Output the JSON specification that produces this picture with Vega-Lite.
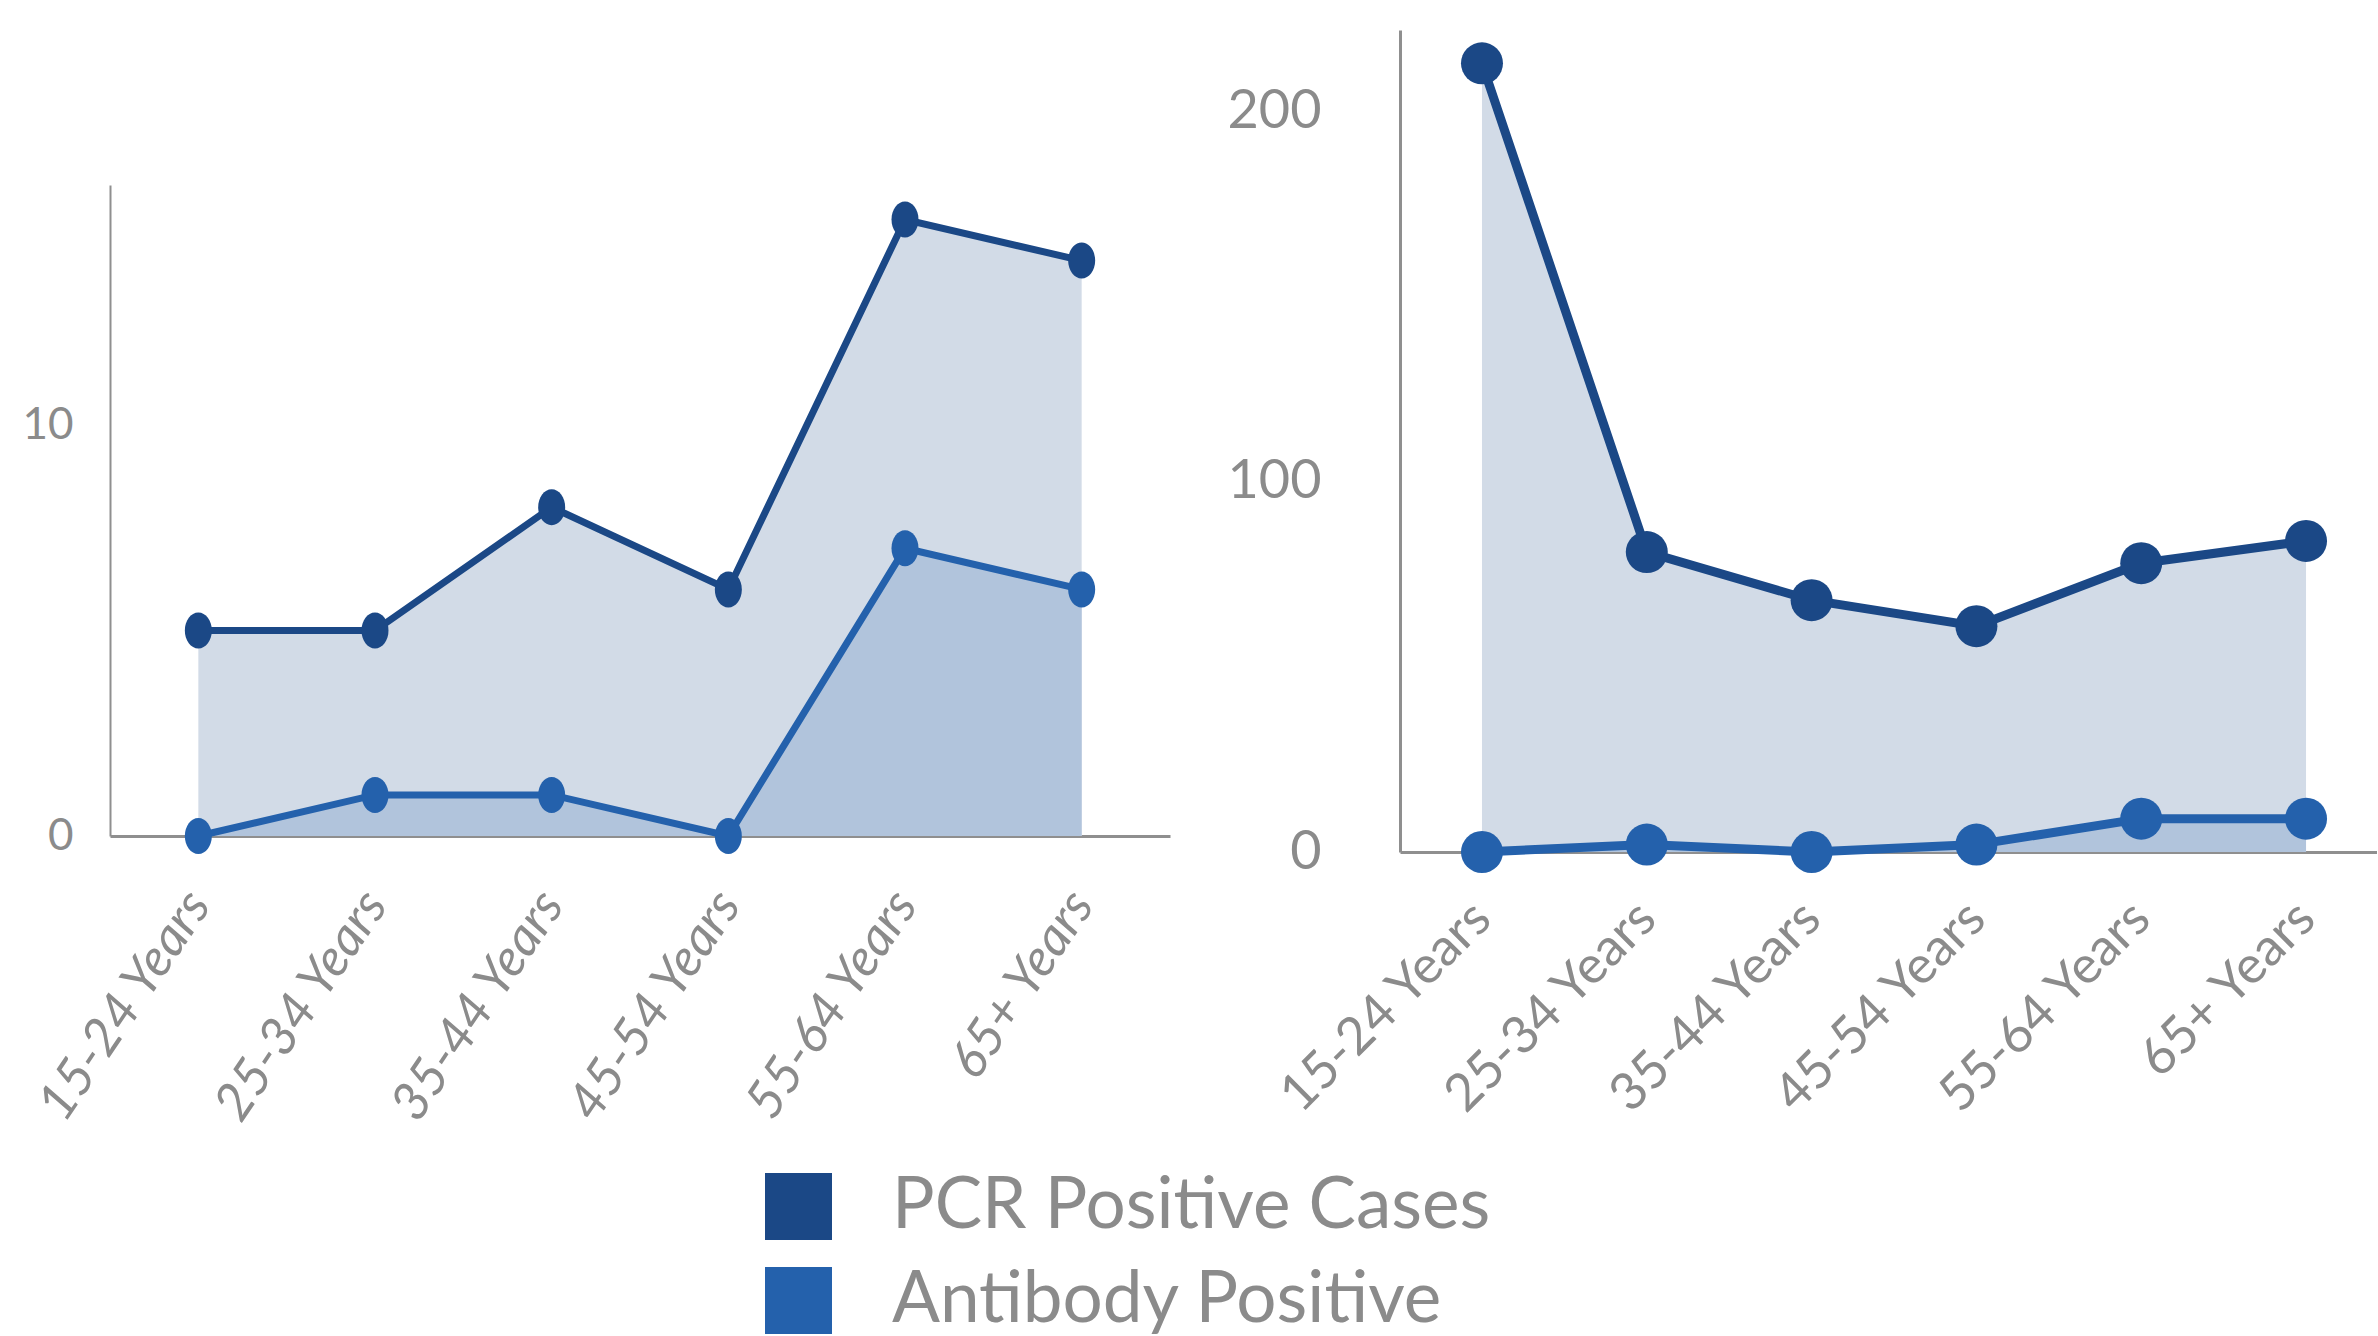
{
  "$schema": "https://vega.github.io/schema/vega-lite/v6.json",
  "background": "white",
  "padding": {"left": 21, "top": 30, "right": 0, "bottom": 0},
  "autosize": {"type": "pad"},
  "datasets": {
    "left": [
      {"age": "15-24 Years", "series": "PCR Positive Cases", "value": 5},
      {"age": "25-34 Years", "series": "PCR Positive Cases", "value": 5},
      {"age": "35-44 Years", "series": "PCR Positive Cases", "value": 8},
      {"age": "45-54 Years", "series": "PCR Positive Cases", "value": 6},
      {"age": "55-64 Years", "series": "PCR Positive Cases", "value": 15},
      {"age": "65+ Years", "series": "PCR Positive Cases", "value": 14},
      {"age": "15-24 Years", "series": "Antibody Positive", "value": 0},
      {"age": "25-34 Years", "series": "Antibody Positive", "value": 1},
      {"age": "35-44 Years", "series": "Antibody Positive", "value": 1},
      {"age": "45-54 Years", "series": "Antibody Positive", "value": 0},
      {"age": "55-64 Years", "series": "Antibody Positive", "value": 7},
      {"age": "65+ Years", "series": "Antibody Positive", "value": 6}
    ],
    "right": [
      {"age": "15-24 Years", "series": "PCR Positive Cases", "value": 213},
      {"age": "25-34 Years", "series": "PCR Positive Cases", "value": 81},
      {"age": "35-44 Years", "series": "PCR Positive Cases", "value": 68},
      {"age": "45-54 Years", "series": "PCR Positive Cases", "value": 61},
      {"age": "55-64 Years", "series": "PCR Positive Cases", "value": 78},
      {"age": "65+ Years", "series": "PCR Positive Cases", "value": 84},
      {"age": "15-24 Years", "series": "Antibody Positive", "value": 0},
      {"age": "25-34 Years", "series": "Antibody Positive", "value": 2},
      {"age": "35-44 Years", "series": "Antibody Positive", "value": 0},
      {"age": "45-54 Years", "series": "Antibody Positive", "value": 2},
      {"age": "55-64 Years", "series": "Antibody Positive", "value": 9},
      {"age": "65+ Years", "series": "Antibody Positive", "value": 9}
    ]
  },
  "spacing": 57,
  "hconcat": [
    {
      "spacing": 0,
      "vconcat": [
        {"width": 1060, "height": 155, "data": {"values": []}, "mark": "text", "encoding": {}},
        {
          "width": 1060,
          "height": 651,
          "data": {"name": "left"},
          "encoding": {
            "x": {"field": "age", "type": "nominal", "sort": null,
              "scale": {"type": "point", "padding": 0.5},
              "axis": {"title": null, "ticks": false, "labelAngle": -56, "labelAlign": "right", "labelBaseline": "middle",
                "labelFont": "Lato", "labelFontStyle": "italic", "labelFontSize": 52,
                "labelColor": "#8b8b8b", "labelPadding": 60, "domainColor": "#8f8f8f", "domainWidth": 3}},
            "y": {"field": "value", "type": "quantitative",
              "scale": {"domain": [0, 15.84], "nice": false},
              "axis": {"title": null, "ticks": false, "values": [0, 10], "labelFont": "Lato",
                "labelFontSize": 44, "labelColor": "#8b8b8b", "labelPadding": 37, "domainColor": "#8f8f8f", "domainWidth": 2}},
            "color": {"field": "series", "type": "nominal",
              "scale": {"domain": ["PCR Positive Cases", "Antibody Positive"], "range": ["#1b4886", "#2461ac"]},
              "legend": {"orient": "none", "legendX": 653, "legendY": 1141, "direction": "vertical", "title": null}}
          },
          "layer": [
            {"transform": [{"filter": "datum.series === 'PCR Positive Cases'"}], "mark": {"type": "area", "opacity": 1}, "encoding": {"color": {"value": "#d2dbe7"}}},
            {"transform": [{"filter": "datum.series === 'Antibody Positive'"}], "mark": {"type": "area", "opacity": 1}, "encoding": {"color": {"value": "#b1c4dc"}}},
            {"mark": {"type": "line", "strokeWidth": 7}},
            {"mark": {"type": "point", "filled": true, "opacity": 1, "size": 1296,
                "shape": "M-0.75,0A0.75,1,0,1,0,0.75,0A0.75,1,0,1,0,-0.75,0Z"}}
          ]
        }
      ]
    },
    {
      "width": 977,
      "height": 822,
      "data": {"name": "right"},
      "encoding": {
        "x": {"field": "age", "type": "nominal", "sort": null,
          "scale": {"type": "point", "padding": 0.464, "align": 0.536},
          "axis": {"title": null, "ticks": false, "labelAngle": -45, "labelAlign": "right", "labelBaseline": "middle",
            "labelFont": "Lato", "labelFontSize": 52, "labelColor": "#8b8b8b", "labelPadding": 58,
            "domainColor": "#8f8f8f", "domainWidth": 3}},
        "y": {"field": "value", "type": "quantitative",
          "scale": {"domain": [0, 222], "nice": false},
          "axis": {"title": null, "ticks": false, "values": [0, 100, 200], "labelFont": "Lato",
            "labelFontSize": 54, "labelColor": "#8b8b8b", "labelPadding": 79, "domainColor": "#8f8f8f", "domainWidth": 3}},
        "color": {"field": "series", "type": "nominal",
          "scale": {"domain": ["PCR Positive Cases", "Antibody Positive"], "range": ["#1b4886", "#2461ac"]},
          "legend": {"orient": "none", "legendX": 653, "legendY": 1141, "direction": "vertical", "title": null}}
      },
      "layer": [
        {"transform": [{"filter": "datum.series === 'PCR Positive Cases'"}], "mark": {"type": "area", "opacity": 1}, "encoding": {"color": {"value": "#d2dbe7"}}},
        {"transform": [{"filter": "datum.series === 'Antibody Positive'"}], "mark": {"type": "area", "opacity": 1}, "encoding": {"color": {"value": "#b1c4dc"}}},
        {"mark": {"type": "line", "strokeWidth": 9}},
        {"mark": {"type": "point", "filled": true, "opacity": 1, "size": 1764, "shape": "circle"}}
      ]
    }
  ],
  "resolve": {"scale": {"color": "shared"}, "legend": {"color": "shared"}},
  "config": {
    "view": {"stroke": null},
    "axis": {"grid": false, "labelLimit": 0},
    "legend": {"symbolType": "square", "symbolSize": 4489, "symbolStrokeWidth": 0, "symbolOpacity": 1,
      "labelFont": "Lato", "labelFontSize": 71, "labelColor": "#8b8b8b", "labelOffset": 58,
      "rowPadding": 22, "padding": 0, "labelLimit": 1000}
  }
}
